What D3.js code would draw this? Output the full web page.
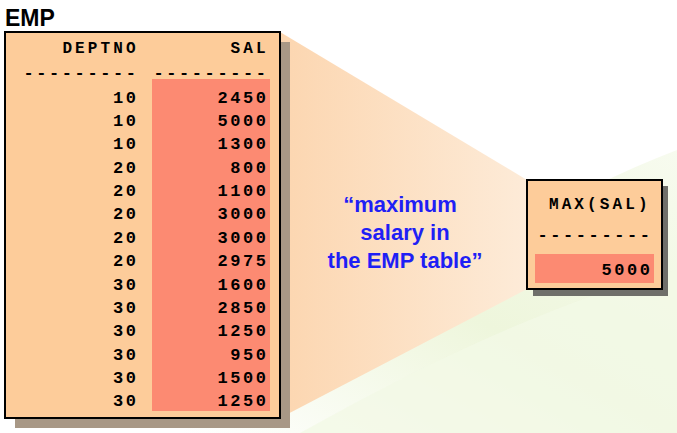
<!DOCTYPE html>
<html><head><meta charset="utf-8">
<script src="https://cdn.jsdelivr.net/npm/d3@7"></script>
<style>body{margin:0;background:#fff}</style>
</head><body>
<svg id="c" width="677" height="433"></svg>
<script>
var deptno = [10,10,10,20,20,20,20,20,30,30,30,30,30,30];
var sal = [2450,5000,1300,800,1100,3000,3000,2975,1600,2850,1250,950,1500,1250];
var columns = ["DEPTNO","SAL"];
var resultLabel = "MAX(SAL)";
var resultValue = d3.max(sal);
var quoteLines = ["\u201Cmaximum","salary in","the EMP table\u201D"];

var svg = d3.select('#c');
var defs = svg.append('defs');
var g1 = defs.append('linearGradient').attr('id','sw').attr('x1',0).attr('y1',1).attr('x2',1).attr('y2',0);
g1.append('stop').attr('offset',0).attr('stop-color','#ffffff');
g1.append('stop').attr('offset',0.5).attr('stop-color','#eef6dc');
g1.append('stop').attr('offset',1).attr('stop-color','#f7fbef');
var g2 = defs.append('linearGradient').attr('id','fn').attr('x1',0).attr('y1',0).attr('x2',1).attr('y2',0);
g2.append('stop').attr('offset',0).attr('stop-color','#fcd6b0');
g2.append('stop').attr('offset',1).attr('stop-color','#fdebd8');

svg.append('path').attr('d','M180,433 C350,330 520,210 677,150 L677,433 Z').attr('fill','url(#sw)');
svg.append('path').attr('d','M300,433 C430,360 560,300 677,270 L677,433 Z').attr('fill','#f3f9e6').attr('opacity',0.8);

svg.append('path').attr('d','M280,32 L527,180 L527,289 L280,418 Z').attr('fill','url(#fn)');

var mono = '"Liberation Mono", "Courier New", monospace';
var ls = 2.6;
var tf = 'font-family:'+mono+';font-weight:bold;font-size:17px;letter-spacing:'+ls+'px';
var hf = 'font-family:'+mono+';font-weight:bold;font-size:16px;letter-spacing:'+(ls+0.5)+'px';

svg.append('text').attr('x',5).attr('y',26).attr('font-family','Liberation Sans, Arial').attr('font-weight','bold').attr('font-size',23).text('EMP');
svg.append('rect').attr('x',15).attr('y',42).attr('width',275).attr('height',386).attr('fill','#a89886');
svg.append('rect').attr('x',5).attr('y',32).attr('width',275).attr('height',386).attr('fill','#fdcc9a').attr('stroke','#000').attr('stroke-width',2);

var y = d3.scaleBand().domain(d3.range(sal.length)).range([85,412]);
svg.append('rect').attr('x',152).attr('y',79).attr('width',118).attr('height',332).attr('fill','#fc8a72');

var colX = d3.scaleOrdinal().domain(columns).range([136+ls,266+ls]);
svg.selectAll('.hd').data(columns).enter().append('text')
  .attr('x',d=>colX(d)).attr('y',53).attr('text-anchor','end')
  .attr('style',hf).text(d=>d);
svg.selectAll('.dash').data(columns).enter().append('text')
  .attr('x',d=>colX(d)).attr('y',78).attr('text-anchor','end')
  .attr('style',tf).text('---------');

svg.selectAll('.dn').data(deptno).enter().append('text')
  .attr('x',136+ls).attr('y',(d,i)=>y(i)+y.bandwidth()/2+6).attr('text-anchor','end')
  .attr('style',tf).text(d=>d);
svg.selectAll('.sv').data(sal).enter().append('text')
  .attr('x',266+ls).attr('y',(d,i)=>y(i)+y.bandwidth()/2+6).attr('text-anchor','end')
  .attr('style',tf).text(d=>d);

svg.selectAll('.q').data(quoteLines).enter().append('text')
  .attr('x',(d,i)=>i?405:400).attr('y',(d,i)=>212+i*28).attr('text-anchor','middle')
  .attr('font-family','Liberation Sans, Arial').attr('font-weight','bold').attr('font-size',22)
  .attr('fill','#1f1ff5').text(d=>d);

svg.append('rect').attr('x',533).attr('y',186).attr('width',135).attr('height',110).attr('fill','#6f6f6a');
svg.append('rect').attr('x',527).attr('y',180).attr('width',135).attr('height',109).attr('fill','#fdcc9a').attr('stroke','#000').attr('stroke-width',2);
svg.append('text').attr('x',648+ls).attr('y',209).attr('text-anchor','end').attr('style',hf).text(resultLabel);
svg.append('text').attr('x',650+ls).attr('y',240).attr('text-anchor','end').attr('style',tf).text('---------');
svg.append('rect').attr('x',535).attr('y',254).attr('width',119).attr('height',29).attr('fill','#fc8a72');
svg.append('text').attr('x',650+ls).attr('y',275).attr('text-anchor','end').attr('style',tf).text(resultValue);
</script>
</body></html>
